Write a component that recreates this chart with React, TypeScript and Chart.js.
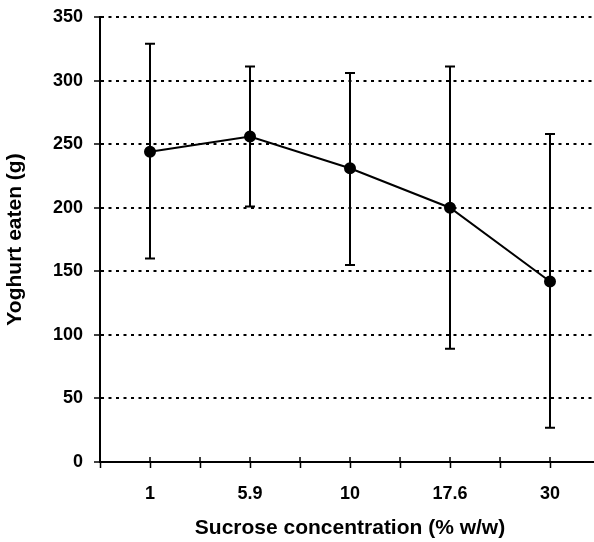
import React, { useEffect, useRef } from "react";
import { Chart, registerables } from "chart.js";

Chart.register(...registerables);

const categories = ["1", "5.9", "10", "17.6", "30"];
const means = [244, 256, 231, 200, 142];
const upperErr = [329, 311, 306, 311, 258];
const lowerErr = [160, 201, 155, 89, 27];
const yTicksMax = 350;
const yStep = 50;

const FONT = "'Liberation Sans', Arial, sans-serif";

const errorBarPlugin = {
  id: "errorBars",
  beforeDatasetsDraw(chart: any) {
    const { ctx, scales } = chart;
    const xs = scales.x;
    const ys = scales.y;
    ctx.save();
    ctx.strokeStyle = "#000";
    ctx.lineWidth = 2;
    for (let i = 0; i < categories.length; i++) {
      const x = xs.getPixelForValue(i + 1);
      const yt = ys.getPixelForValue(upperErr[i]);
      const yb = ys.getPixelForValue(lowerErr[i]);
      ctx.beginPath();
      ctx.moveTo(x, yt);
      ctx.lineTo(x, yb);
      ctx.moveTo(x - 5, yt);
      ctx.lineTo(x + 5, yt);
      ctx.moveTo(x - 5, yb);
      ctx.lineTo(x + 5, yb);
      ctx.stroke();
    }
    // inner half of x-axis tick marks (crossing the axis)
    const base = ys.getPixelForValue(0);
    ctx.lineWidth = 1.5;
    for (let v = 1; v <= categories.length + 0.5; v += 0.5) {
      const x = xs.getPixelForValue(v);
      ctx.beginPath();
      ctx.moveTo(x, base);
      ctx.lineTo(x, base - 5);
      ctx.stroke();
    }
    ctx.restore();
  },
};

export default function App() {
  const ref = useRef<HTMLCanvasElement>(null);
  useEffect(() => {
    if (!ref.current) return;
    const chart = new Chart(ref.current, {
      type: "line",
      data: {
        datasets: [
          {
            data: means.map((m, i) => ({ x: i + 1, y: m })),
            borderColor: "#000",
            backgroundColor: "#000",
            borderWidth: 2,
            pointRadius: 5,
            pointBackgroundColor: "#000",
            pointBorderColor: "#000",
            tension: 0,
          },
        ],
      },
      options: {
        responsive: false,
        animation: false,
        devicePixelRatio: 1,
        layout: {
          autoPadding: false,
          padding: { top: 17, left: 0, right: 0, bottom: 0 },
        },
        plugins: { legend: { display: false }, tooltip: { enabled: false } },
        scales: {
          x: {
            type: "linear",
            min: 0.5,
            max: categories.length + 0.5,
            afterFit: (s: any) => {
              s.height = 80;
              s.paddingLeft = 0;
              s.paddingRight = 0;
            },
            ticks: {
              stepSize: 0.5,
              autoSkip: false,
              maxRotation: 0,
              padding: 15,
              color: "#000",
              font: { family: FONT, size: 18, weight: "bold" },
              callback: (v: any) =>
                Number.isInteger(v) ? categories[v - 1] ?? "" : "",
            },
            grid: {
              drawOnChartArea: false,
              drawTicks: true,
              tickLength: 6,
              tickColor: "#000",
              tickWidth: 1.5,
            },
            border: { display: true, color: "#000", width: 2 },
            title: {
              display: true,
              text: "Sucrose concentration (% w/w)",
              color: "#000",
              font: { family: FONT, size: 21, weight: "bold" },
              padding: { top: 0, bottom: 1 },
            },
          },
          y: {
            min: 0,
            max: yTicksMax,
            afterFit: (s: any) => {
              s.width = 100;
              s.paddingTop = 0;
              s.paddingBottom = 0;
            },
            ticks: {
              stepSize: yStep,
              padding: 11,
              color: "#000",
              font: { family: FONT, size: 18, weight: "bold" },
            },
            grid: {
              color: "#000",
              lineWidth: 2,
              tickLength: 6,
              tickColor: "#000",
              tickWidth: 1.5,
              tickBorderDash: [],
            },
            border: { display: true, color: "#000", width: 2, dash: [3, 4.5] },
            title: {
              display: true,
              text: "Yoghurt eaten (g)",
              color: "#000",
              font: { family: FONT, size: 21, weight: "bold" },
              padding: { top: 3, bottom: 0 },
            },
          },
        },
      },
      plugins: [errorBarPlugin],
    } as any);
    return () => chart.destroy();
  }, []);
  return (
    <div
      style={{
        position: "fixed",
        left: 0,
        top: 0,
        width: 594,
        height: 542,
        overflow: "hidden",
        background: "#fff",
      }}
    >
      <canvas ref={ref} width={600} height={542} style={{ display: "block" }} />
    </div>
  );
}
